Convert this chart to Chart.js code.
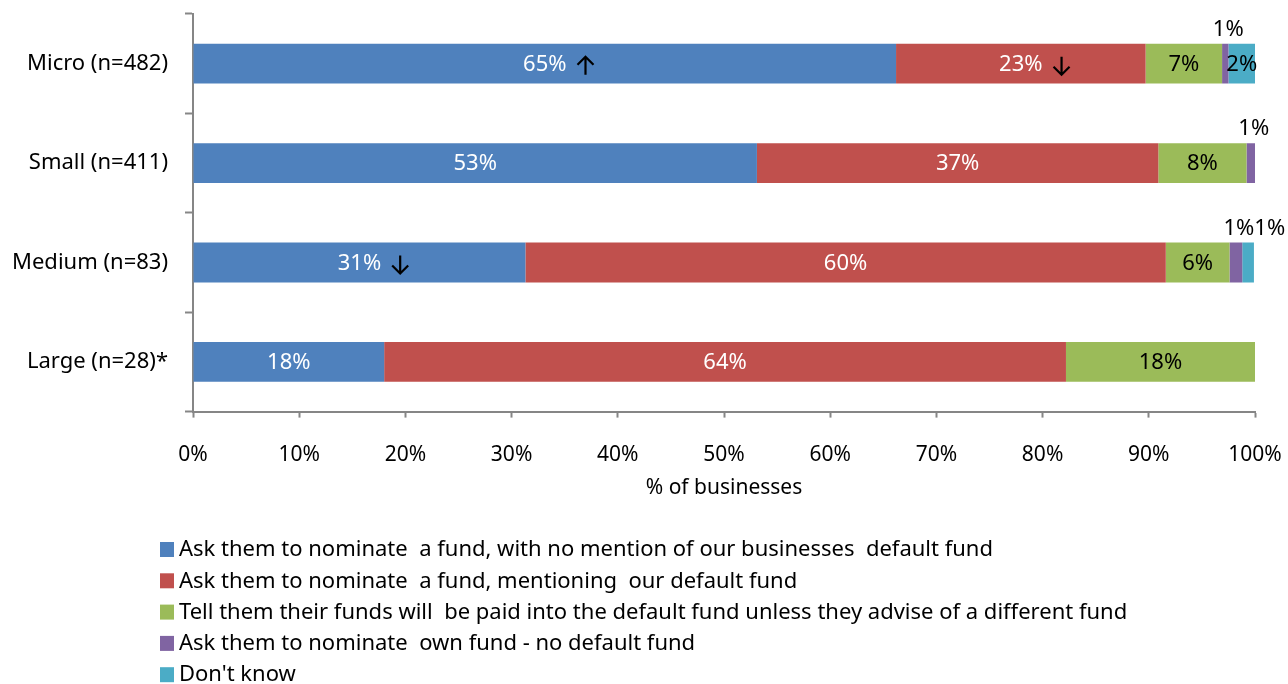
<!DOCTYPE html>
<html lang="en">
<head>
<meta charset="UTF-8">
<title>Default fund nomination by business size</title>
<script src="https://cdn.jsdelivr.net/npm/chart.js"></script>
<style>
	* { margin: 0; padding: 0; box-sizing: border-box; }
	body { background: #fff; }
	#contenedor { width: 1288px; height: 684px; position: relative; }
</style>
</head>
<body>
<div id="contenedor">
	<canvas id="grafico"></canvas>
</div>
<script>
// categories (top to bottom)
const categorias = ['Micro (n=482)', 'Small (n=411)', 'Medium (n=83)', 'Large (n=28)*'];

// series names (legend order)
const nombres = [
	'Ask them to nominate  a fund, with no mention of our businesses  default fund',
	'Ask them to nominate  a fund, mentioning  our default fund',
	'Tell them their funds will  be paid into the default fund unless they advise of a different fund',
	'Ask them to nominate  own fund - no default fund',
	"Don't know"
];

// bar lengths, % of businesses (as drawn)
const sinMencion   = [66.2, 53.1, 31.3, 18.0];
const mencionando  = [23.5, 37.8, 60.3, 64.2];
const porDefecto   = [7.2, 8.3, 6.0, 17.8];
const fondoPropio  = [0.6, 0.8, 1.2, 0];
const noSabe       = [2.5, 0, 1.1, 0];

// printed labels
const etqSinMencion  = ['65%', '53%', '31%', '18%'];
const etqMencionando = ['23%', '37%', '60%', '64%'];
const etqPorDefecto  = ['7%', '8%', '6%', '18%'];
const etqFondoPropio = ['1%', '1%', '1%', ''];
const etqNoSabe      = ['2%', '', '1%', ''];

// significance arrows
const flechasSinMencion  = ['up', '', 'down', ''];
const flechasMencionando = ['down', '', '', ''];

const colores = ['#4F81BD', '#C0504D', '#9BBB59', '#8064A2', '#4BACC6'];
const coloresTexto = ['#ffffff', '#ffffff', '#000000', '#000000', '#000000'];

const ticksX = [0, 10, 20, 30, 40, 50, 60, 70, 80, 90, 100];

const FUENTE = '"Noto Sans", "DejaVu Sans", sans-serif';

const valores = [sinMencion, mencionando, porDefecto, fondoPropio, noSabe];
const etiquetas = [etqSinMencion, etqMencionando, etqPorDefecto, etqFondoPropio, etqNoSabe];
const flechas = [flechasSinMencion, flechasMencionando, [], [], []];

// draws an arrow centred at x,y
function dibujaFlecha(ctx, x, y, dir) {
	const h = 9, a = 8;
	ctx.save();
	ctx.strokeStyle = '#000';
	ctx.lineWidth = 2.2;
	ctx.beginPath();
	ctx.moveTo(x, y - h);
	ctx.lineTo(x, y + h);
	if (dir === 'up') {
		ctx.moveTo(x - a, y - h + a);
		ctx.lineTo(x, y - h);
		ctx.lineTo(x + a, y - h + a);
	} else {
		ctx.moveTo(x - a, y + h - a);
		ctx.lineTo(x, y + h);
		ctx.lineTo(x + a, y + h - a);
	}
	ctx.stroke();
	ctx.restore();
}

// data labels plugin
const pluginEtiquetas = {
	id: 'etiquetas',
	afterDatasetsDraw(chart) {
		const ctx = chart.ctx;
		ctx.save();
		ctx.font = '22px ' + FUENTE;
		ctx.textBaseline = 'middle';
		ctx.textAlign = 'center';
		chart.data.labels.forEach((cat, i) => {
			let finAnterior = -Infinity;
			chart.data.datasets.forEach((ds, d) => {
				const texto = etiquetas[d][i];
				if (!texto) return;
				const barra = chart.getDatasetMeta(d).data[i];
				const ancho = Math.abs(barra.x - barra.base);
				const centro = (barra.x + barra.base) / 2;
				const w = ctx.measureText(texto).width;
				if (ancho >= 20) {
					ctx.fillStyle = coloresTexto[d];
					ctx.fillText(texto, centro, barra.y + 1);
					const f = flechas[d][i];
					if (f) dibujaFlecha(ctx, centro + w / 2 + 19, barra.y + 2, f);
				} else {
					const x = Math.max(centro + 3, finAnterior + w / 2);
					ctx.fillStyle = '#000';
					ctx.fillText(texto, x, barra.y - barra.height / 2 - 14);
					finAnterior = x + w / 2;
				}
			});
		});
		ctx.restore();
	}
};

// legend drawn as a vertical list under the axis
const pluginLeyenda = {
	id: 'leyendaLista',
	afterDraw(chart) {
		const ctx = chart.ctx;
		ctx.save();
		ctx.font = '22px ' + FUENTE;
		ctx.textBaseline = 'middle';
		ctx.textAlign = 'left';
		nombres.forEach((n, i) => {
			const y = 550 + i * 31.3;
			ctx.fillStyle = colores[i];
			ctx.fillRect(160, y - 8, 14, 15);
			ctx.fillStyle = '#000';
			ctx.fillText(n, 179, y);
		});
		ctx.restore();
	}
};

const datos = {
	labels: categorias,
	datasets: valores.map((v, d) => ({
		label: nombres[d],
		data: v,
		backgroundColor: colores[d],
		borderWidth: 0,
		categoryPercentage: 0.4,
		barPercentage: 1
	}))
};

const opciones = {
	indexAxis: 'y',
	responsive: false,
	animation: false,
	layout: { padding: { top: 14, right: 33, bottom: 183, left: 0 } },
	plugins: {
		legend: { display: false },
		tooltip: { enabled: false }
	},
	scales: {
		x: {
			stacked: true,
			min: 0,
			max: 100,
			afterBuildTicks: (eje) => { eje.ticks = ticksX.map(v => ({ value: v })); },
			afterFit: (eje) => { eje.paddingLeft = 0; eje.paddingRight = 0; },
			grid: { drawOnChartArea: false, drawTicks: true, tickLength: 6, tickColor: '#868686', tickWidth: 2 },
			border: { color: '#868686', width: 2 },
			ticks: {
				color: '#000',
				font: { family: FUENTE, size: 21 },
				padding: 25,
				maxRotation: 0,
				callback: (v) => v + '%'
			},
			title: {
				display: true,
				text: '% of businesses',
				color: '#000',
				font: { family: FUENTE, size: 21 },
				padding: { top: -17, bottom: 0 }
			}
		},
		y: {
			stacked: true,
			afterFit: (eje) => { eje.width = 193; eje.paddingTop = 0; eje.paddingBottom = 0; },
			grid: { drawOnChartArea: false, drawTicks: true, tickLength: 8, tickColor: '#868686', tickWidth: 2, offset: true },
			border: { color: '#868686', width: 2 },
			ticks: {
				color: '#000',
				font: { family: FUENTE, size: 22 },
				padding: 17
			}
		}
	}
};

const lienzo = document.getElementById('grafico');
lienzo.width = 1288;
lienzo.height = 684;
new Chart(lienzo, {
	type: 'bar',
	data: datos,
	options: opciones,
	plugins: [pluginEtiquetas, pluginLeyenda]
});
</script>
</body>
</html>
